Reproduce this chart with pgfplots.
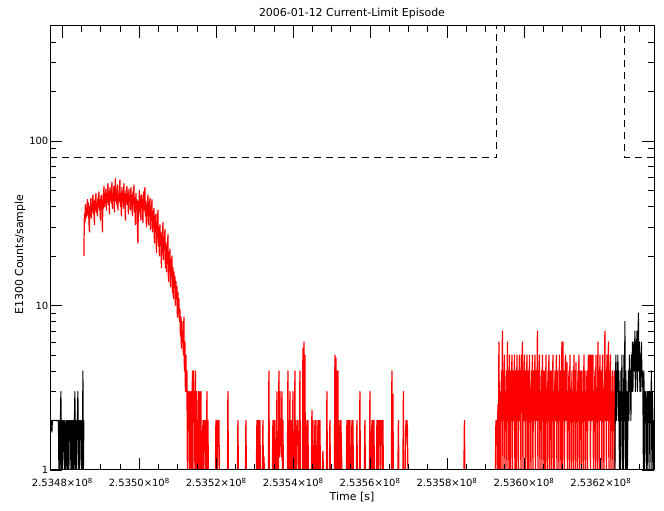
\documentclass[border=0pt]{standalone}
\usepackage{pgfplots}
\pgfplotsset{compat=1.18}
\usepackage{fontspec}
\setmainfont{DejaVu Sans}
\begin{document}
\begin{tikzpicture}[x=1bp,y=1bp]
\useasboundingbox (0,0) rectangle (664,511);
\begin{axis}[
  at={(50bp,41bp)}, anchor=south west,
  scale only axis, width=604bp, height=444bp,
  xmin=-3224, xmax=153820, ymin=1, ymax=500, ymode=log,
  scaled x ticks=false,
  axis on top,
  axis line style={line width=1bp},
  every tick/.style={black, line width=0.8bp},
  major tick length=12bp, minor tick length=6bp,
  xtick={0,20000,40000,60000,80000,100000,120000,140000},
  xticklabels={2.5348×10\textsuperscript{8},2.5350×10\textsuperscript{8},2.5352×10\textsuperscript{8},2.5354×10\textsuperscript{8},2.5356×10\textsuperscript{8},2.5358×10\textsuperscript{8},2.5360×10\textsuperscript{8},2.5362×10\textsuperscript{8}},
  minor xtick={5000,10000,...,150000},
  ytick={1,10,100}, yticklabels={1,10,100},
  minor ytick={2,3,4,5,6,7,8,9,20,30,40,50,60,70,80,90,200,300,400},
  tick label style={font=\fontsize{10}{12}\selectfont},
  xticklabel style={anchor=base, yshift=-17bp, inner sep=1bp},
  yticklabel style={anchor=east, inner sep=1.5bp},
  title={2006-01-12 Current-Limit Episode},
  title style={at={(axis description cs:0.5,1.009)}, anchor=base, font=\fontsize{11}{13}\selectfont},
  xlabel={Time [s]},
  xlabel style={at={(axis description cs:0.5,-0.0698)}, anchor=base, inner sep=1bp, font=\fontsize{11}{13}\selectfont},
  ylabel={E1300 Counts/sample},
  ylabel style={at={(axis description cs:-0.0497,0.485)}, anchor=center, font=\fontsize{11}{13}\selectfont},
]
% black counts, start
\addplot[black, mark=none, line width=1.1bp, line join=round] coordinates {
(-3250,1.7)(-3120,1.7)(-2990,2)(-2860,2)(-2730,1.7)(-2600,2)(-2470,2)(-2340,2)(-2210,2)(-2080,2)(-1950,2)(-1820,2)(-1690,2)(-1560,2)(-1430,2)(-1300,2)(-1170,2)(-1040,2)
(-910,1)(-780,2)(-650,1)(-520,2)(-390,3)(-260,1)(-130,2)(0,1)(130,2)(260,1.3)(390,2)(520,1)(650,2)(780,1)(910,1.7)(1040,2)(1170,1)(1300,2)(1430,1)(1560,2)(1690,1)(1820,2)
(1950,1.5)(2080,2)(2210,1)(2340,2)(2470,1)(2600,2)(2730,1)(2860,2)(2990,1)(3120,2)(3250,3)(3380,1)(3510,2)(3640,1)(3770,2)(3900,2)(4030,3)(4160,1)(4290,2)(4420,1)
(4550,2)(4680,1.7)(4810,2)(4940,1)(5070,2)(5200,1)(5330,4)(5460,1)(5590,2)
};
% red episode
\addplot[red, mark=none, line width=1.2bp, line join=round] coordinates {
(5590,20)(5720,36)(5850,32)(5980,41)(6110,34)(6240,39)(6370,35)(6500,44)(6630,36)(6760,42)
(6890,33)(7020,28)(7150,40)(7280,37)(7410,45)(7540,34)(7670,41)(7800,38)(7930,47)(8060,36)
(8190,43)(8320,31)(8450,44)(8580,39)(8710,48)(8840,37)(8970,42)(9100,35)(9230,45)(9360,40)
(9490,49)(9620,38)(9750,44)(9880,33)(10010,46)(10140,41)(10270,47)(10400,28)(10530,43)(10660,39)
(10790,53)(10920,40)(11050,48)(11180,42)(11310,51)(11440,38)(11570,47)(11700,44)(11830,55)(11960,41)
(12090,49)(12220,36)(12350,52)(12480,45)(12610,50)(12740,42)(12870,56)(13000,39)(13130,48)(13260,44)
(13390,53)(13520,37)(13650,50)(13780,59)(13910,43)(14040,49)(14170,41)(14300,54)(14430,38)(14560,47)
(14690,43)(14820,51)(14950,58)(15080,40)(15210,46)(15340,35)(15470,52)(15600,44)(15730,49)(15860,39)
(15990,55)(16120,42)(16250,47)(16380,33)(16510,50)(16640,45)(16770,53)(16900,41)(17030,48)(17160,36)
(17290,51)(17420,43)(17550,46)(17680,38)(17810,52)(17940,40)(18070,47)(18200,35)(18330,49)(18460,42)
(18590,54)(18720,37)(18850,45)(18980,31)(19110,48)(19240,41)(19370,44)(19500,30)(19630,24)(19760,43)
(19890,39)(20020,50)(20150,36)(20280,46)(20410,33)(20540,47)(20670,40)(20800,44)(20930,32)(21060,49)
(21190,38)(21320,45)(21450,52)(21580,35)(21710,43)(21840,30)(21970,41)(22100,36)(22230,47)(22360,31)
(22490,42)(22620,35)(22750,45)(22880,29)(23010,40)(23140,33)(23270,44)(23400,28)(23530,37)(23660,30)
(23790,39)(23920,24)(24050,35)(24180,28)(24310,36)(24440,21)(24570,32)(24700,26)(24830,38)(24960,23)
(25090,30)(25220,20)(25350,31)(25480,25)(25610,28)(25740,17)(25870,27)(26000,21)(26130,32)(26260,19)
(26390,26)(26520,22)(26650,29)(26780,17)(26910,24)(27040,16)(27170,23)(27300,18)(27430,27)(27560,14)
(27690,21)(27820,16)(27950,22)(28080,13)(28210,19)(28340,15)(28470,20)(28600,12)(28730,17)(28860,11)
(28990,16)(29120,13)(29250,15)(29380,10)(29510,14)(29640,11)(29770,13)(29900,8.5)(30030,12)(30160,9)
(30290,11)(30420,8)(30550,9.5)(30680,6.5)(30810,8.5)(30940,5.5)(31070,8)(31200,6)(31330,7)(31460,5)
(31590,8.5)(31720,4)(31850,6)(31980,3)(32110,5)(32240,3)(32370,4)(32500,1)(32630,3)(32760,2)
(32890,3)(33020,1)(33150,3)(33280,1)(33410,2)(33540,3)(33670,1)(33800,4)(33930,1)(34060,4)
(34190,2)(34320,3)(34450,1)(34580,4)(34710,1)(34840,3)(34970,1)(35100,2)(35230,1)
(35360,3)(35490,1)(35620,1)(35750,3)(35880,1)(36010,3)(36140,1)(36270,1)(36400,1)(36530,2)(36660,1)(36790,2)(36920,1.3)(37050,2)(37180,1)(37310,2)(37440,1)(37570,3)(37700,1)(37830,2)(37960,1)
(39780,1)(39910,2)(40040,1)(40170,2)(40300,1)(40430,2)(40560,1.4)(40690,2)(40820,1)
(42900,1)(43030,3)(43160,1)
(45500,1)(45630,2)(45760,1)
(47580,1)(47710,2)(47840,1)
(50440,1)(50570,2)(50700,1)(50830,2)(50960,1)(51090,2)(51220,1)(51350,2)(51480,1)
(52000,1)(52130,2)(52260,1)(52390,1.2)(52520,1)
(53560,1)(53690,4)(53820,1)
(54600,1)(54730,2)(54860,1)(54990,2)(55120,1)(55250,2)(55380,1)
(55640,1)(55770,3)(55900,1)
(56160,1)(56290,4)(56420,1.2)(56550,3)(56680,1.4)(56810,2)(56940,1.2)(57070,3)(57200,1)(57330,2)(57460,1)
(58500,1)(58630,4)(58760,1)
(59020,1)(59150,3)(59280,1)(59410,2)(59540,1)(59670,2)(59800,1)(59930,3)(60060,1)
(60320,1)(60450,4)(60580,1)
(60840,1)(60970,2)(61100,1.5)(61230,2)(61360,1)
(61620,1)(61750,4)(61880,1)
(62400,1)(62530,5.5)(62660,1)(62790,6)(62920,1)(63050,5)(63180,1)
(63440,1)(63570,2)(63700,1)(63830,2)(63960,1)
(64740,1)(64870,2.3)(65000,1)(65130,2)(65260,1)
(65520,1)(65650,2)(65780,1)(65910,2)(66040,1)
(66300,1)(66430,2)(66560,1)(66690,2)(66820,1)(66950,2)(67080,1)
(67600,1)(67730,1.3)(67860,1)
(68640,1)(68770,3)(68900,1)
(69420,1)(69550,2)(69680,1)
(70720,1)(70850,5)(70980,1)(71110,4.8)(71240,1)(71370,4)(71500,1)(71630,4)(71760,1)
(72020,1)(72150,2)(72280,1)(72410,2)(72540,1.4)(72670,1)
(73840,1)(73970,2)(74100,1)(74230,2)(74360,1)(74490,2)(74620,1)(74750,2)(74880,1)
(75140,1)(75270,2)(75400,1)(75530,2)(75660,1)
(76440,1)(76570,2)(76700,1)
(77220,1)(77350,3)(77480,1)
(78520,1)(78650,2)(78780,1)
(79820,1)(79950,3)(80080,1)
(80340,1)(80470,2)(80600,1)(80730,2)(80860,1)(80990,2)(81120,1)
(81640,1)(81770,2)(81900,1)(82030,2)(82160,1)(82290,2)(82420,1.8)(82550,2)(82680,1)(82810,2)(82940,1.8)(83070,2)(83200,1)(83330,2)(83460,1)
(85540,1)(85670,4)(85800,1)(85930,2.9)(86060,1)
(87230,1)(87360,2)(87490,1)
(88530,1)(88660,3)(88790,1)
(89180,1)(89310,2)(89440,1.6)(89570,2)(89700,1.8)(89830,1)
(104390,1)(104520,2)(104650,1)
(112580,1)(112710,2)(112840,1.5)
(112970,2)(113100,1)(113230,2.5)(113360,1)(113490,6)(113620,2)(113750,1)(113880,3)(114010,1)(114140,4)
(114270,2)(114400,7)(114530,1)(114660,4)(114790,2)(114920,5)(115050,1)(115180,3)(115310,2)(115440,4)
(115570,1)(115700,6)(115830,2)(115960,4)(116090,1)(116220,5)(116350,3)(116480,1)(116610,4)(116740,2)
(116870,5)(117000,1)(117130,3)(117260,4)(117390,2)(117520,5)(117650,1)(117780,4)(117910,3)(118040,1)
(118170,5)(118300,2)(118430,4)(118560,1)(118690,3)(118820,5)(118950,2)(119080,4)(119210,1)(119340,5)
(119470,3)(119600,6)(119730,1)(119860,4)(119990,2)(120120,5)(120250,3)(120380,1)(120510,4)(120640,2)
(120770,5)(120900,1)(121030,3)(121160,4)(121290,1)(121420,5)(121550,2)(121680,3)(121810,1)(121940,4)
(122070,2)(122200,5)(122330,1)(122460,3)(122590,4)(122720,2)(122850,5)(122980,1)(123110,4)(123240,2)
(123370,3)(123500,7)(123630,1)(123760,4)(123890,2)(124020,5)(124150,1)(124280,3)(124410,2)(124540,4)
(124670,1)(124800,5)(124930,2)(125060,4)(125190,1)(125320,3)(125450,4)(125580,1)(125710,5)(125840,2)
(125970,3)(126100,1)(126230,4)(126360,2)(126490,5)(126620,1)(126750,3)(126880,4)(127010,2)(127140,1)
(127270,4)(127400,2)(127530,5)(127660,1)(127790,3)(127920,1)(128050,4)(128180,2)(128310,3)(128440,5)
(128570,1)(128700,4)(128830,2)(128960,3)(129090,1)(129220,5)(129350,2)(129480,4)(129610,1)(129740,3)
(129870,6)(130000,1)(130130,6)(130260,2)(130390,4)(130520,1)(130650,3)(130780,5)(130910,2)(131040,4.5)
(131170,4.5)(131300,1)(131430,3)(131560,2)(131690,4)(131820,1)(131950,5)(132080,2)(132210,3)(132340,1)
(132470,4)(132600,2)(132730,3)(132860,1)(132990,5)(133120,2)(133250,4)(133380,1)(133510,4.5)(133640,2)
(133770,3)(133900,1)(134030,4)(134160,2)(134290,5)(134420,1)(134550,3)(134680,4)(134810,2)(134940,1)
(135070,4)(135200,2)(135330,3)(135460,1)(135590,5)(135720,2)(135850,4)(135980,1)(136110,3)(136240,2)
(136370,4)(136500,1)(136630,3)(136760,5)(136890,2)(137020,4)(137150,5)(137280,1)(137410,3)(137540,5)
(137670,2)(137800,4)(137930,5)(138060,1)(138190,3)(138320,2)(138450,4)(138580,1)(138710,5)(138840,2)
(138970,3)(139100,1)(139230,6)(139360,2)(139490,4)(139620,1)(139750,5)(139880,3)(140010,2)(140140,4)
(140270,1)(140400,5)(140530,2)(140660,3)(140790,1)(140920,4)(141050,7)(141180,2)(141310,4)(141440,1)
(141570,5)(141700,2)(141830,3)(141960,6)(142090,1)(142220,4)(142350,2)(142480,5)(142610,1)(142740,3)
(142870,2)(143000,4)(143130,1)(143260,3)(143390,2)(143520,4)(143650,1)
};
% black counts, end
\addplot[black, mark=none, line width=1.1bp, line join=round] coordinates {
(143650,1)(143780,3)(143910,5)(144040,2)(144170,4)(144300,3)(144430,5)(144560,2)(144690,4)(144820,1)(144950,3)
(145080,1)(145210,4)(145340,2)(145470,5)(145600,1)(145730,3)(145860,1)(145990,5)(146120,2)(146250,8)
(146380,1)(146510,4)(146640,1)(146770,3)(146900,1)(147030,2)(147160,4)(147290,2)(147420,5)(147550,3)
(147680,4)(147810,2)(147940,5)(148070,3)(148200,6)(148330,3)(148460,5)(148590,6)(148720,4)(148850,7)
(148980,3)(149110,6)(149240,4)(149370,7)(149500,3)(149630,5)(149760,9)(149890,4)(150020,6)(150150,3)
(150280,5)(150410,3)(150540,6)(150670,4)(150800,4)(150930,3)(151060,1)(151190,4)(151320,1)(151450,3)
(151580,2)(151710,3)(151840,1)(151970,2)(152100,3)(152230,1)(152360,3)(152490,2)(152620,3)(152750,1)
(152880,3)(153010,2)(153140,4)(153270,1)(153400,3)(153530,2)(153660,1)(153790,2)
};
% current-limit threshold
\addplot[black, mark=none, line width=1bp, dash pattern=on 7bp off 5bp] coordinates {
(-3224,79)(112970,79)(112970,1000)(146250,1000)(146250,79)(153820,79)
};
\end{axis}
\end{tikzpicture}
\end{document}
